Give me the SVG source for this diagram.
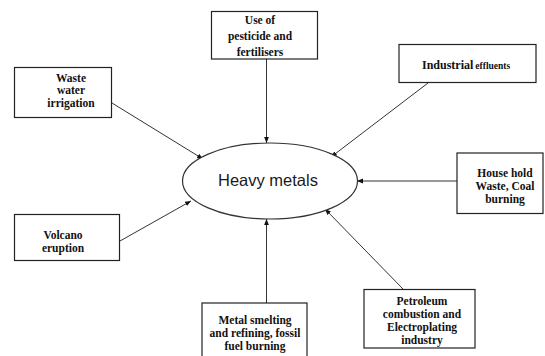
<svg xmlns="http://www.w3.org/2000/svg" width="545" height="356" viewBox="0 0 545 356">
<style>
.box{fill:#fff;stroke:#222;stroke-width:1.2}
.t{font-family:"Liberation Serif","Times New Roman",serif;font-weight:bold;font-size:11.5px;fill:#111;text-anchor:middle}
.c{stroke:#333;stroke-width:1;fill:none;marker-end:url(#ah)}
</style>
<defs>
<marker id="ah" viewBox="0 0 10 10" refX="10" refY="5" markerWidth="6" markerHeight="6" markerUnits="userSpaceOnUse" orient="auto">
<path d="M0,1 L10,5 L0,9 z" fill="#111"/>
</marker>
</defs>
<rect width="545" height="356" fill="#fff"/>
<g id="connectors">
<line class="c" x1="266.5" y1="59" x2="266.5" y2="143"/>
<line class="c" x1="112" y1="103" x2="203" y2="159"/>
<line class="c" x1="428" y1="83" x2="331" y2="157"/>
<line class="c" x1="457" y1="181" x2="357" y2="181"/>
<line class="c" x1="120" y1="241" x2="191" y2="201"/>
<line class="c" x1="266.5" y1="303" x2="266.5" y2="219"/>
<line class="c" x1="403" y1="289" x2="325" y2="209"/>
</g>
<g id="center">
<ellipse cx="270" cy="181" rx="87.5" ry="38" fill="#fff" stroke="#333" stroke-width="1.2"/>
<text x="268" y="185.5" font-family="'Liberation Sans',Arial,sans-serif" font-size="16.5" text-anchor="middle" fill="#1a1a1a">Heavy metals</text>
</g>
<g id="pesticide">
<rect class="box" x="211.5" y="11.5" width="106" height="47.5"/>
<text class="t" x="260" y="24">Use of</text>
<text class="t" x="260" y="40">pesticide and</text>
<text class="t" x="260" y="55.5">fertilisers</text>
</g>
<g id="waste">
<rect class="box" x="14.5" y="67.5" width="97" height="50"/>
<text class="t" x="71" y="81.5">Waste</text>
<text class="t" x="71" y="94">water</text>
<text class="t" x="71" y="107">irrigation</text>
</g>
<g id="industrial">
<rect class="box" x="399" y="44.5" width="137" height="38"/>
<text x="422" y="69" font-family="'Liberation Serif','Times New Roman',serif" font-weight="bold" fill="#111"><tspan font-size="12">Industrial</tspan><tspan font-size="9.5" dx="2">effluents</tspan></text>
</g>
<g id="household">
<rect class="box" x="457" y="153" width="86" height="60.5"/>
<text class="t" x="505" y="177">House hold</text>
<text class="t" x="505" y="190">Waste, Coal</text>
<text class="t" x="505" y="203">burning</text>
</g>
<g id="volcano">
<rect class="box" x="14.5" y="214.5" width="105" height="46"/>
<text class="t" x="63" y="238.5">Volcano</text>
<text class="t" x="63" y="251.5">eruption</text>
</g>
<g id="metal">
<rect class="box" x="202" y="303" width="105" height="60"/>
<text class="t" x="255" y="323.5">Metal smelting</text>
<text class="t" x="255" y="336.5">and refining, fossil</text>
<text class="t" x="255" y="349.5">fuel burning</text>
</g>
<g id="petroleum">
<rect class="box" x="364" y="289.5" width="111" height="58.5"/>
<text class="t" x="422" y="305">Petroleum</text>
<text class="t" x="422" y="318">combustion and</text>
<text class="t" x="422" y="331">Electroplating</text>
<text class="t" x="422" y="344">industry</text>
</g>
</svg>
